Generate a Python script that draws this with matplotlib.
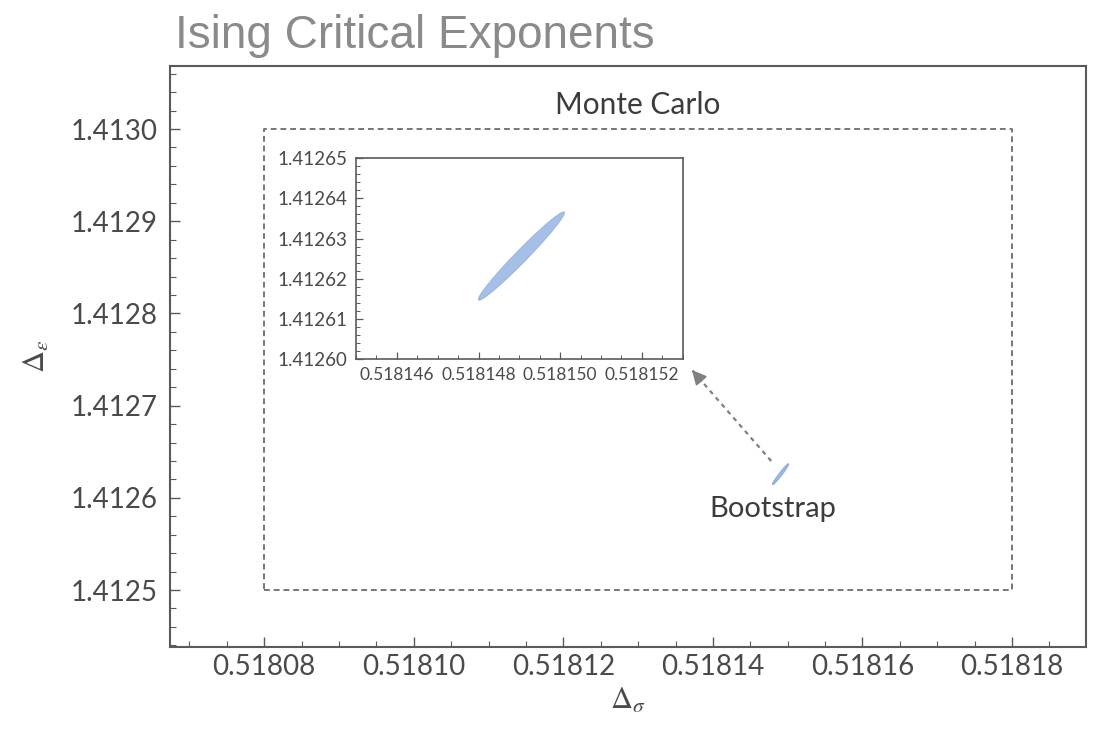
import numpy as np
import matplotlib
matplotlib.use("Agg")
import matplotlib.pyplot as plt
from matplotlib.ticker import MultipleLocator, FormatStrFormatter

# ---- data ----
title = "Ising Critical Exponents"
x_ticks = [0.51808, 0.51810, 0.51812, 0.51814, 0.51816, 0.51818]
y_ticks = [1.4125, 1.4126, 1.4127, 1.4128, 1.4129, 1.4130]
inset_x_ticks = [0.518146, 0.518148, 0.518150, 0.518152]
inset_y_ticks = [1.41260, 1.41261, 1.41262, 1.41263, 1.41264, 1.41265]

# Monte Carlo box (sigma range, epsilon range)
mc_sigma = [0.51808, 0.51818]
mc_eps = [1.4125, 1.4130]

# Bootstrap island: tips of the elongated region and its half-width
boot_tip_lo = (0.5181480, 1.4126147)
boot_tip_hi = (0.5181501, 1.4126366)
boot_half_width = (1.04e-7, -1.05e-6)

main_xlim = (0.5180674, 0.5181899)
main_ylim = (1.4124382, 1.4130683)
inset_xlim = (0.518145, 0.518153)
inset_ylim = (1.41260, 1.41265)

mc_label_pos = (0.51813, 1.413026)
boot_label_pos = (0.518148, 1.412588)
arrow_tail = (0.5181478, 1.4126399)
arrow_head = (0.5181372, 1.4127386)

# ---- build island outline ----
c = ((boot_tip_lo[0] + boot_tip_hi[0]) / 2, (boot_tip_lo[1] + boot_tip_hi[1]) / 2)
a = (boot_tip_hi[0] - c[0], boot_tip_hi[1] - c[1])
b = boot_half_width
t = np.linspace(0, 2 * np.pi, 400)
isl_x = c[0] + a[0] * np.cos(t) + b[0] * np.sin(t)
isl_y = c[1] + a[1] * np.cos(t) + b[1] * np.sin(t)

plt.rcParams['font.family'] = ['Lato', 'DejaVu Sans']
plt.rcParams['mathtext.fontset'] = 'stix'

fig = plt.figure(figsize=(10.99, 7.42), dpi=100)
fig.patch.set_facecolor('white')

spine_col = '#5a5a5a'
text_col = '#4a4a4a'
fill_col = '#a6bfe6'
edge_col = '#94b2e0'

ax = fig.add_axes([0.1547, 0.1280, 0.8335, 0.7830])
ax.set_xlim(*main_xlim)
ax.set_ylim(*main_ylim)
ax.set_xticks(x_ticks)
ax.set_yticks(y_ticks)
ax.xaxis.set_major_formatter(FormatStrFormatter('%.5f'))
ax.yaxis.set_major_formatter(FormatStrFormatter('%.4f'))
ax.xaxis.set_minor_locator(MultipleLocator(0.000005))
ax.yaxis.set_minor_locator(MultipleLocator(0.00002))
ax.tick_params(which='both', direction='in', colors=spine_col, top=False, right=False,
               labelcolor=text_col, labelsize=20)
ax.tick_params(which='major', length=7, width=1.0)
ax.tick_params(which='minor', length=4, width=0.8)
ax.tick_params(axis='x', which='major', pad=5)
ax.tick_params(axis='y', which='major', pad=9)
for s in ax.spines.values():
    s.set_color(spine_col)
    s.set_linewidth(1.5)

ax.set_xlabel(r'$\Delta_\sigma$', fontsize=22, color=text_col, labelpad=4)
ax.set_ylabel(r'$\Delta_\epsilon$', fontsize=22, color=text_col, labelpad=14)

# Monte Carlo box
ax.plot([mc_sigma[0], mc_sigma[1], mc_sigma[1], mc_sigma[0], mc_sigma[0]],
        [mc_eps[0], mc_eps[0], mc_eps[1], mc_eps[1], mc_eps[0]],
        color='#777777', lw=1.4, ls=(0, (3, 2)))
ax.text(*mc_label_pos, 'Monte Carlo', ha='center', va='center', fontsize=21.5, color='#3c3c3c')

# Bootstrap island in main axes
ax.fill(isl_x, isl_y, color=fill_col, ec=edge_col, lw=1.2)
ax.text(*boot_label_pos, 'Bootstrap', ha='center', va='center', fontsize=21, color='#3c3c3c')

# dashed arrow
ax.plot([arrow_tail[0], arrow_head[0]], [arrow_tail[1], arrow_head[1]],
        color='#808080', lw=1.6, ls=(0, (2, 2)))
ax.annotate('', xy=arrow_head,
            xytext=(arrow_head[0] + (arrow_tail[0] - arrow_head[0]) * 0.12,
                    arrow_head[1] + (arrow_tail[1] - arrow_head[1]) * 0.12),
            arrowprops=dict(arrowstyle='-|>', color='#808080', lw=1.2,
                            mutation_scale=22, shrinkA=0, shrinkB=0))

# title
fig.text(175 / 1099, 1 - 36 / 742, title, ha='left', va='center', fontsize=33,
         color='#8a8a8a', family=['Liberation Sans', 'DejaVu Sans'])

# inset
ins = fig.add_axes([356 / 1099, 1 - 359 / 742, (682.7 - 356) / 1099, (359 - 158.3) / 742])
ins.set_xlim(*inset_xlim)
ins.set_ylim(*inset_ylim)
ins.set_xticks(inset_x_ticks)
ins.set_yticks(inset_y_ticks)
ins.xaxis.set_major_formatter(FormatStrFormatter('%.6f'))
ins.yaxis.set_major_formatter(FormatStrFormatter('%.5f'))
ins.xaxis.set_minor_locator(MultipleLocator(0.0000005))
ins.yaxis.set_minor_locator(MultipleLocator(0.000002))
ins.tick_params(which='both', direction='in', colors=spine_col, top=False, right=False,
                labelcolor=text_col)
ins.tick_params(axis='x', labelsize=12.5)
ins.tick_params(axis='y', labelsize=13.5)
ins.tick_params(which='major', length=5, width=0.9, pad=6)
ins.tick_params(which='minor', length=3, width=0.7)
for s in ins.spines.values():
    s.set_color(spine_col)
    s.set_linewidth(1.2)
ins.fill(isl_x, isl_y, color=fill_col, ec=edge_col, lw=0.6)

fig.savefig('out.png', dpi=100, facecolor='white')
